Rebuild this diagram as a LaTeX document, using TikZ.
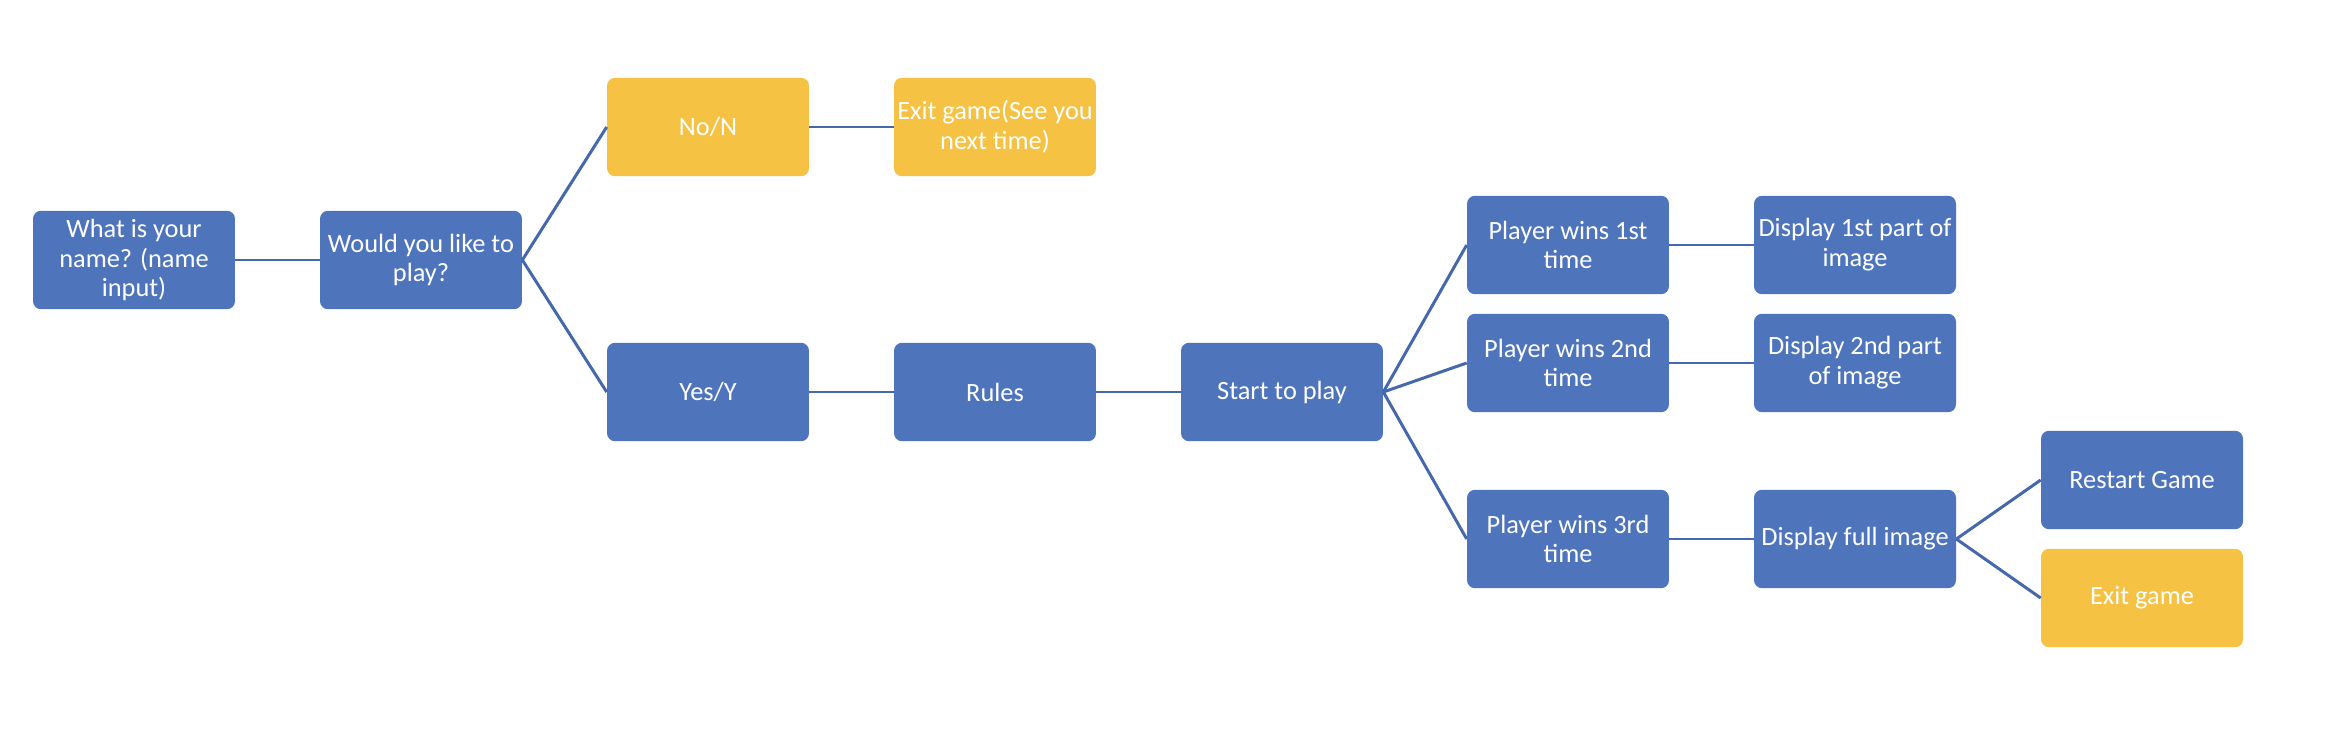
\documentclass[tikz,border=0pt]{standalone}
\usepackage{fontspec}
\setmainfont{Carlito}
\usepackage{tikz}
\usepackage{color}

\definecolor{boxblue}{HTML}{4E74BC}
\definecolor{boxyellow}{HTML}{F5C243}
\definecolor{linkblue}{HTML}{4568AC}

\begin{document}
\begin{tikzpicture}[
	x=0.02cm, y=-0.02cm,
	task/.style={rounded corners=0.16cm, minimum width=4.04cm, minimum height=1.97cm,
		inner sep=0pt, text=white, align=center, font=\fontsize{15}{17}\selectfont},
	bluetask/.style={task, fill=boxblue},
	yellowtask/.style={task, fill=boxyellow},
	link/.style={draw=linkblue, line width=1.7pt}
]

	\fill[white] (0,0) rectangle (2326,750);

	\node[bluetask] (name) at (134,260) {What is your\\name? (name\\input)};
	\node[bluetask] (play) at (421,260) {Would you like to\\play?};
	
	\node[yellowtask] (no) at (708,127) {No/N};
	\node[yellowtask] (bye) at (995,127) {Exit game(See you\\next time)};
	
	\node[bluetask] (yes) at (708,392) {Yes/Y};
	\node[bluetask] (rules) at (995,392) {Rules};
	\node[bluetask] (start) at (1282,392) {Start to play};
	
	\node[bluetask] (winone) at (1568,245) {Player wins 1st\\time};
	\node[bluetask] (wintwo) at (1568,363) {Player wins 2nd\\time};
	\node[bluetask] (winthree) at (1568,539) {Player wins 3rd\\time};
	
	\node[bluetask] (showone) at (1855,245) {Display 1st part of\\image};
	\node[bluetask] (showtwo) at (1855,363) {Display 2nd part\\of image};
	\node[bluetask] (showall) at (1855,539) {Display full image};
	
	\node[bluetask] (restart) at (2142,480) {Restart Game};
	\node[yellowtask] (quit) at (2142,598) {Exit game};

	\draw[link] (name) -- (play);
	\draw[link] (play.east) -- (no.west);
	\draw[link] (play.east) -- (yes.west);
	\draw[link] (no) -- (bye);
	\draw[link] (yes) -- (rules);
	\draw[link] (rules) -- (start);
	\draw[link] (start.east) -- (winone.west);
	\draw[link] (start.east) -- (wintwo.west);
	\draw[link] (start.east) -- (winthree.west);
	\draw[link] (winone) -- (showone);
	\draw[link] (wintwo) -- (showtwo);
	\draw[link] (winthree) -- (showall);
	\draw[link] (showall.east) -- (restart.west);
	\draw[link] (showall.east) -- (quit.west);

\end{tikzpicture}
\end{document}
